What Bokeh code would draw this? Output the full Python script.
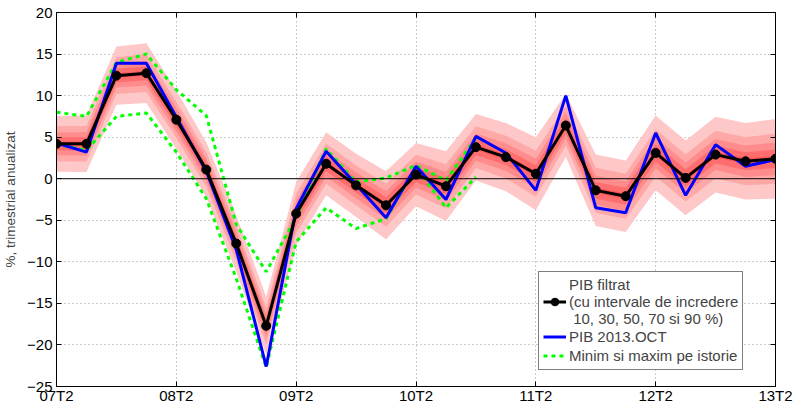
import numpy as np
from bokeh.plotting import figure
from bokeh.models import (FixedTicker, LinearAxis, Span, Legend, LegendItem,
                          Range1d)
from bokeh.embed import file_html
from bokeh.resources import INLINE

# ---------------- data ----------------
quarters = ["07T2", "07T3", "07T4", "08T1", "08T2", "08T3", "08T4", "09T1",
            "09T2", "09T3", "09T4", "10T1", "10T2", "10T3", "10T4", "11T1",
            "11T2", "11T3", "11T4", "12T1", "12T2", "12T3", "12T4", "13T1",
            "13T2"]
tick_labels = ["07T2", "08T2", "09T2", "10T2", "11T2", "12T2", "13T2"]
y_ticks = [-25, -20, -15, -10, -5, 0, 5, 10, 15, 20]

pib_filtrat = [4.2, 4.2, 12.4, 12.7, 7.1, 1.1, -7.8, -17.7, -4.2, 1.8, -0.8,
               -3.2, 0.5, -0.9, 3.8, 2.6, 0.6, 6.4, -1.4, -2.1, 3.1, 0.1,
               2.9, 2.1, 2.4]
pib_2013oct = [4.3, 3.2, 13.9, 13.9, 7.4, 0.9, -8.5, -22.6, -3.6, 3.3, -0.7,
               -4.7, 1.5, -2.5, 5.1, 3.1, -1.4, 10.0, -3.5, -4.1, 5.5, -2.0,
               4.1, 1.5, 2.3]
maxim_istorie = [8.0, 7.5, 14.0, 15.0, 10.7, 7.6, -5.5, -11.2, -4.6, 3.6,
                 -0.4, 0.1, 1.6, -0.2, 4.9]
minim_istorie = [4.2, 3.4, 7.5, 7.9, 3.2, -2.4, -12.0, -22.7, -7.6, -3.5,
                 -6.0, -4.8, 1.4, -3.5, 0.2]
# half-width of the 90 % interval around the filtered GDP
semi_90 = [3.35, 3.4, 3.5, 3.6, 3.5, 3.3, 3.4, 3.5, 3.8, 3.8, 3.8, 4.1, 3.8,
           4.2, 4.0, 4.1, 4.4, 3.8, 4.3, 4.3, 4.5, 4.5, 4.55, 4.6, 4.8]
# relative width of each confidence interval (normal quantiles / 90 %)
interval_levels = [90, 70, 50, 30, 10]
interval_ratio = [1.0, 0.63, 0.41, 0.234, 0.077]
interval_colors = ["#ffc8c8", "#ffa8a8", "#ff8c8c", "#ff6e6e", "#ff5454"]

x = list(range(len(quarters)))
xg = list(range(len(maxim_istorie)))
tick_idx = [quarters.index(t) for t in tick_labels]

FONT = "Liberation Sans"

p = figure(frame_width=719, frame_height=374,
           x_range=Range1d(0, len(quarters) - 1), y_range=Range1d(-25, 20),
           output_backend="svg", toolbar_location=None,
           min_border_left=55, min_border_top=12, min_border_right=19,
           min_border_bottom=16)
p.background_fill_color = "white"
p.outline_line_color = "black"
p.outline_line_width = 1

# confidence bands
f = np.array(pib_filtrat)
s = np.array(semi_90)
for r, c in zip(interval_ratio, interval_colors):
    p.varea(x=x, y1=list(f - r * s), y2=list(f + r * s), fill_color=c,
            fill_alpha=1.0)

zero = Span(location=0, dimension="width", line_color="black",
            line_width=1, level="glyph")
p.add_layout(zero)

g1 = p.line(xg, maxim_istorie, line_color="#00ff00", line_width=3,
            line_dash="4 4")
g2 = p.line(xg, minim_istorie, line_color="#00ff00", line_width=3,
            line_dash="4 4")
bl = p.line(x, pib_2013oct, line_color="#0000ff", line_width=3)
kl = p.line(x, pib_filtrat, line_color="black", line_width=3)
kc = p.scatter(x, pib_filtrat, marker="circle", size=9, fill_color="black",
               line_color="black")

# axes
for ax in (p.xaxis[0], p.yaxis[0]):
    ax.major_tick_in = 5
    ax.major_tick_out = 0
    ax.minor_tick_line_color = None
    ax.axis_line_color = "black"
    ax.major_label_text_font = FONT
    ax.major_label_text_font_size = "15px"
    ax.major_label_text_color = "black"
p.xaxis.ticker = FixedTicker(ticks=tick_idx)
p.xaxis.major_label_overrides = {i: t for i, t in zip(tick_idx, tick_labels)}
p.xaxis.major_label_standoff = 0
p.yaxis.ticker = FixedTicker(ticks=y_ticks)
p.yaxis.major_label_overrides = {v: (str(v).replace("-", "\u2212")) for v in y_ticks}
p.yaxis.major_label_standoff = 4
p.yaxis.axis_label = "%, trimestrial anualizat"
p.yaxis.axis_label_text_font = FONT
p.yaxis.axis_label_text_font_size = "13.5px"
p.yaxis.axis_label_text_font_style = "normal"
p.yaxis.axis_label_standoff = 6

right = LinearAxis(ticker=FixedTicker(ticks=y_ticks), major_tick_in=5,
                   major_tick_out=0, minor_tick_line_color=None,
                   major_label_overrides={v: "" for v in y_ticks},
                   major_label_standoff=0)
top = LinearAxis(ticker=FixedTicker(ticks=tick_idx), major_tick_in=5,
                 major_tick_out=0, minor_tick_line_color=None,
                 major_label_overrides={v: "" for v in tick_idx},
                 major_label_standoff=0)
p.add_layout(right, "right")
p.add_layout(top, "above")

p.xgrid.ticker = FixedTicker(ticks=tick_idx)
p.ygrid.ticker = FixedTicker(ticks=y_ticks)
for g in (p.xgrid[0], p.ygrid[0]):
    g.grid_line_color = "#999999"
    g.grid_line_dash = "1 3"
    g.grid_line_width = 1

legend = Legend(items=[
    LegendItem(label="PIB filtrat\n(cu intervale de incredere\n 10, 30, 50, 70 si 90 %)",
               renderers=[kl, kc]),
    LegendItem(label="PIB 2013.OCT", renderers=[bl]),
    LegendItem(label="Minim si maxim pe istorie", renderers=[g1]),
], location=(482, 16))
legend.label_text_font = FONT
legend.label_text_font_size = "15px"
legend.label_text_line_height = 1.3
legend.label_height = 19
legend.border_line_color = "black"
legend.border_line_width = 1
legend.background_fill_alpha = 1
legend.glyph_width = 23
legend.glyph_height = 19
legend.label_standoff = 3
legend.spacing = 0
legend.padding = 4
legend.margin = 0
p.add_layout(legend)

open("out.html", "w").write(file_html(p, INLINE))
